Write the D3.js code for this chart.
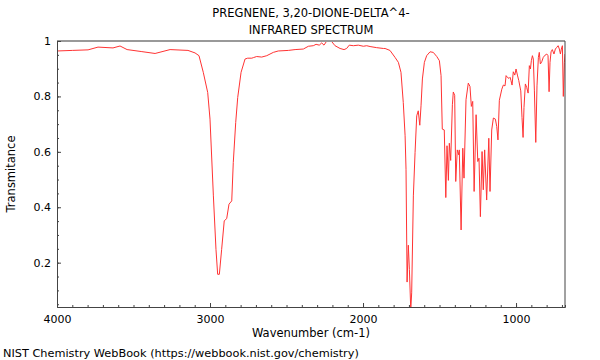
<!DOCTYPE html>
<html><head><meta charset="utf-8">
<script src="https://cdn.jsdelivr.net/npm/d3@7"></script>
<style>body{margin:0;background:#fff}svg{display:block}text{font-family:"DejaVu Sans",sans-serif;fill:#000}</style>
</head><body>
<script>
const titleLines = ["PREGNENE, 3,20-DIONE-DELTA^4-", "INFRARED SPECTRUM"];
const xLabel = "Wavenumber (cm-1)";
const yLabel = "Transmitance";
const footer = "NIST Chemistry WebBook (https://webbook.nist.gov/chemistry)";
const xTicks = [4000, 3000, 2000, 1000];
const yTicks = [0.2, 0.4, 0.6, 0.8, 1];
const wavenumbers = [4000,3900,3797,3732,3634,3588,3542,3450,3359,3261,3144,3098,3072,3044,3015,3000,2978,2961,2950,2939,2924,2907,2891,2876,2858,2848,2832,2819,2797,2771,2754,2727,2717,2695,2662,2629,2586,2554,2488,2444,2390,2357,2325,2307,2286,2270,2255,2237,2220,2205,2183,2150,2124,2107,2090,2063,2031,1998,1976,1954,1911,1867,1856,1824,1791,1769,1752,1737,1725,1719,1712,1704,1697,1688,1682,1671,1660,1649,1639,1629,1621,1612,1599,1584,1562,1541,1518,1501,1490,1482,1469,1459,1451,1442,1436,1427,1416,1410,1401,1394,1384,1374,1371,1359,1348,1340,1327,1312,1301,1292,1283,1274,1261,1250,1242,1233,1222,1214,1205,1192,1178,1170,1159,1148,1135,1126,1118,1109,1093,1083,1072,1065,1057,1046,1039,1033,1026,1018,1008,1000,991,982,969,961,954,948,939,930,921,913,906,900,893,887,880,871,863,854,848,841,832,822,810,799,791,784,778,771,763,752,743,734,725,717,710,704,697,691,684,680];
const transmittance = [.964,.966,.968,.978,.975,.982,.969,.962,.955,.969,.966,.957,.947,.887,.814,.718,.441,.248,.158,.158,.248,.351,.359,.411,.423,.561,.706,.796,.887,.935,.938,.938,.940,.944,.942,.947,.959,.964,.966,.969,.971,.981,.983,.988,.985,.993,.985,1.0,1.0,.998,.983,.973,.969,.973,.985,.983,.985,.981,.983,.980,.976,.973,.973,.966,.941,.923,.887,.778,.658,.537,.130,.263,.176,.030,.091,.441,.597,.730,.748,.696,.766,.863,.923,.947,.961,.959,.944,.929,.875,.682,.679,.435,.622,.497,.631,.569,.770,.816,.804,.493,.607,.589,.607,.318,.613,.505,.788,.848,.836,.764,.782,.457,.734,.565,.577,.366,.601,.463,.607,.426,.649,.457,.679,.722,.718,.691,.643,.786,.826,.841,.838,.875,.869,.865,.869,.857,.841,.889,.877,.899,.877,.857,.820,.724,.652,.760,.845,.832,.812,.911,.899,.929,.947,.935,.820,.634,.838,.941,.959,.917,.925,.941,.949,.953,.947,.817,.923,.961,.969,.953,.971,.977,.983,.971,.953,.971,.983,.800,.923,.953];
const spectrum = wavenumbers.map((w, i) => ({w, t: transmittance[i]}));

const W = 600, H = 360;
const m = {left: 57, right: 35, top: 41, bottom: 53};
const svg = d3.select("body").append("svg").attr("width", W).attr("height", H);
const x = d3.scaleLinear().domain([4000, 680]).range([m.left, W - m.right]);
const y = d3.scaleLinear().domain([0.04, 1]).range([H - m.bottom, m.top]);

svg.append("defs").append("clipPath").attr("id", "clip").append("rect")
  .attr("x", m.left).attr("y", m.top).attr("width", W - m.left - m.right).attr("height", H - m.top - m.bottom);

svg.append("path").datum(spectrum).attr("clip-path", "url(#clip)")
  .attr("fill", "none").attr("stroke", "#ff3333").attr("stroke-width", 1)
  .attr("d", d3.line().x(d => x(d.w)).y(d => y(d.t)));

// frame
svg.append("line").attr("x1", m.left).attr("x2", W - m.right).attr("y1", m.top).attr("y2", m.top)
  .attr("stroke", "#999").attr("stroke-width", 2);
svg.append("line").attr("x1", W - m.right).attr("x2", W - m.right).attr("y1", m.top).attr("y2", H - m.bottom)
  .attr("stroke", "#444").attr("stroke-width", 1);

// x axis
const xMinor = d3.range(4000, 679, -100);
const gx = svg.append("g").attr("transform", `translate(0,${H - m.bottom})`);
gx.call(d3.axisBottom(x).tickValues(xMinor).tickSize(-2).tickFormat(""));
const gx2 = svg.append("g").attr("transform", `translate(0,${H - m.bottom})`);
gx2.call(d3.axisBottom(x).tickValues(xTicks).tickSize(-4).tickPadding(8).tickFormat(d3.format("d")));
gx2.select(".domain").remove();
// y axis
const yMinor = d3.range(0.05, 1.001, 0.05);
const gy = svg.append("g").attr("transform", `translate(${m.left},0)`);
gy.call(d3.axisLeft(y).tickValues(yMinor).tickSize(-2).tickFormat(""));
const gy2 = svg.append("g").attr("transform", `translate(${m.left},0)`);
gy2.call(d3.axisLeft(y).tickValues(yTicks).tickSize(-4).tickPadding(6).tickFormat(d => d === 1 ? "1" : d3.format(".1f")(d)));
gy2.select(".domain").remove();
svg.selectAll(".domain").attr("stroke", "#444");
svg.selectAll(".tick line").attr("stroke", "#444");
svg.selectAll(".tick text").attr("font-size", 11).attr("font-family", "DejaVu Sans").attr("fill", "#000");

const cx = (m.left + W - m.right) / 2;
svg.append("text").attr("x", cx).attr("y", 17).attr("text-anchor", "middle").attr("font-size", 11.5).text(titleLines[0]);
svg.append("text").attr("x", cx).attr("y", 34).attr("text-anchor", "middle").attr("font-size", 11.5).text(titleLines[1]);
svg.append("text").attr("x", cx).attr("y", 337).attr("text-anchor", "middle").attr("font-size", 11.5).text(xLabel);
svg.append("text").attr("transform", `translate(15,${(m.top + H - m.bottom) / 2}) rotate(-90)`).attr("text-anchor", "middle").attr("font-size", 11.5).text(yLabel);
svg.append("text").attr("x", 3).attr("y", 357).attr("font-size", 11.3).text(footer);
</script>
</body></html>
